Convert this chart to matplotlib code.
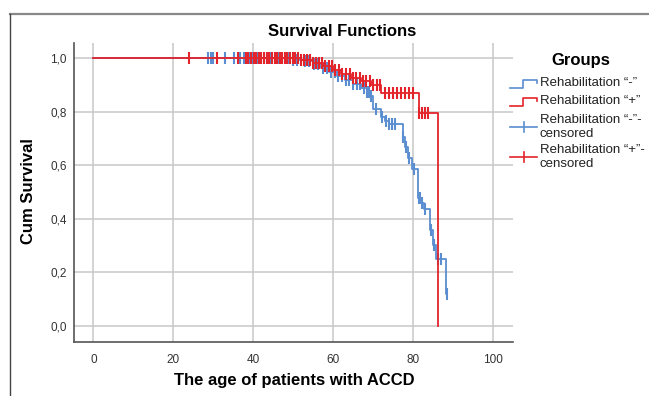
import numpy as np
import matplotlib
matplotlib.use("Agg")
import matplotlib.pyplot as plt
from matplotlib.lines import Line2D

plt.rcParams['font.family'] = ['Liberation Sans', 'DejaVu Sans']

# Kaplan-Meier steps, Rehabilitation "-"
minus_t = [0, 50, 53, 55, 57, 59, 61, 63, 65, 67, 68.5, 69.5, 70.0, 72.0, 73.0, 74.0,
           77.5, 78.1, 78.9, 79.8, 81.4, 82.2, 82.9, 84.4, 85.1, 85.8, 88.3, 88.7]
minus_s = [1.0, 0.995, 0.99, 0.98, 0.965, 0.95, 0.935, 0.92, 0.905, 0.89, 0.875, 0.86,
           0.81, 0.78, 0.765, 0.755, 0.706, 0.669, 0.626, 0.587, 0.479, 0.457, 0.438,
           0.357, 0.303, 0.251, 0.12, 0.12]
minus_cens = [28.8, 29.4, 30.0, 32.9, 35.1, 36.8, 37.8, 38.4, 39.3, 40.1, 41.0, 41.8,
              42.7, 43.5, 44.6, 45.5, 46.4, 47.3, 48.2, 49.0, 50.1, 51.0, 52.0, 53.1,
              54.0, 55.2, 56.3, 57.5, 58.4, 59.6, 60.5, 61.4, 62.3, 63.2, 64.1, 65.0,
              66.0, 66.8, 67.7, 68.5, 69.1, 69.6, 70.9, 72.3, 73.3, 74.1, 74.8, 75.5,
              77.6, 78.3, 79.1, 80.3, 81.5, 81.9, 82.4, 83.1, 84.5, 85.3, 86.3, 87.1, 88.7]

# Kaplan-Meier steps, Rehabilitation "+"
plus_t = [0, 52, 55, 57.5, 60, 62, 64.5, 67, 69.5, 72.1, 81.5, 86.4]
plus_s = [1.0, 0.993, 0.983, 0.97, 0.955, 0.94, 0.928, 0.915, 0.9, 0.871, 0.794, 0.0]
plus_cens = [23.9, 30.9, 36.1, 38.2, 38.8, 39.5, 40.2, 40.8, 41.5, 42.1, 42.8, 43.4,
             44.1, 44.7, 45.4, 46.0, 46.7, 47.3, 48.0, 48.6, 49.3, 49.9, 50.6, 51.3,
             52.0, 52.8, 53.5, 54.3, 55.0, 55.8, 56.6, 57.3, 58.1, 58.9, 59.7, 60.6,
             61.5, 62.4, 63.3, 64.2, 65.0, 65.8, 66.7, 67.6, 68.4, 69.2, 70.1, 71.0,
             71.7, 73.0, 74.0, 75.0, 76.0, 77.0, 78.0, 79.0, 80.0, 81.6, 82.3, 83.0, 83.9]

x_ticks = [0, 20, 40, 60, 80, 100]
y_ticks = [0.0, 0.2, 0.4, 0.6, 0.8, 1.0]
y_labels = ['0,0', '0,2', '0,4', '0,6', '0,8', '1,0']

BLUE = '#5a8ed0'
RED = '#e3242b'
W, H = 649, 396


def surv_at(times, surv, t):
    idx = np.searchsorted(times, t, side='right') - 1
    return np.array(surv)[idx]


def px(x, y):
    return x / W, 1 - y / H


fig = plt.figure(figsize=(W / 100, H / 100), dpi=100)
ax = fig.add_axes([73.5 / W, 54.3 / H, 439 / W, 298.4 / H])

ax.plot(minus_t, minus_s, drawstyle='steps-post', color=BLUE, lw=1.3)
ax.plot(minus_cens, surv_at(minus_t, minus_s, minus_cens), ls='none', marker='|',
        ms=8, mew=1.5, color=BLUE)
ax.plot(plus_t, plus_s, drawstyle='steps-post', color=RED, lw=1.3)
ax.plot(plus_cens, surv_at(plus_t, plus_s, plus_cens), ls='none', marker='|',
        ms=8, mew=1.5, color=RED)

ax.set_xlim(-5, 105)
ax.set_ylim(-0.06, 1.056)
ax.set_xticks(x_ticks)
ax.set_yticks(y_ticks)
ax.set_yticklabels(y_labels)
ax.grid(True, color='#c8c8c8', lw=1.1)
ax.set_axisbelow(True)
ax.tick_params(length=0, labelsize=8.5, labelcolor='#333333')
ax.tick_params(axis='x', pad=9)
ax.tick_params(axis='y', pad=5)
for s in ['top', 'right']:
    ax.spines[s].set_visible(False)
for s in ['left', 'bottom']:
    ax.spines[s].set_color('#555555')
    ax.spines[s].set_linewidth(1.2)

# titles
fig.text(*px(342, 36), 'Survival Functions', ha='center', va='baseline',
         fontsize=12, fontweight='bold')
fig.text(*px(294, 385), 'The age of patients with ACCD', ha='center', va='baseline',
         fontsize=12, fontweight='bold')
fig.text(*px(28.5, 191), 'Cum Survival', ha='center', va='center', rotation=90,
         fontsize=12, fontweight='bold')

# legend
fig.text(*px(581, 61), 'Groups', ha='center', va='center', fontsize=12, fontweight='bold')
entries = [
    (BLUE, 'step', 84, 'Rehabilitation \u201c-\u201d'),
    (RED, 'step', 102, 'Rehabilitation \u201c+\u201d'),
    (BLUE, 'cens', 121, 'Rehabilitation \u201c-\u201d-\ncensored'),
    (RED, 'cens', 151, 'Rehabilitation \u201c+\u201d-\ncensored'),
]
for color, kind, yc, label in entries:
    if kind == 'step':
        xs = [510, 523, 523, 537, 537]
        ys = [yc + 4, yc + 4, yc - 4, yc - 4, yc - 1]
    else:
        xs = [510, 537]
        ys = [yc + 6, yc + 6]
        fig.add_artist(Line2D([524 / W, 524 / W], [1 - (yc + 1) / H, 1 - (yc + 11) / H],
                              color=color, lw=1.2))
    fig.add_artist(Line2D([x / W for x in xs], [1 - y / H for y in ys], color=color, lw=1.2))
    fig.text(*px(540, yc - 7), label, ha='left', va='top', fontsize=9.5,
             linespacing=1.25, color='#222222')

# outer frame
fig.add_artist(Line2D([10 / W, 1.0], [1 - 14 / H, 1 - 14 / H], color='#888888', lw=1.6))
fig.add_artist(Line2D([10 / W, 10 / W], [0, 1 - 14 / H], color='#444444', lw=1.0))

fig.savefig('out.png', dpi=100)
